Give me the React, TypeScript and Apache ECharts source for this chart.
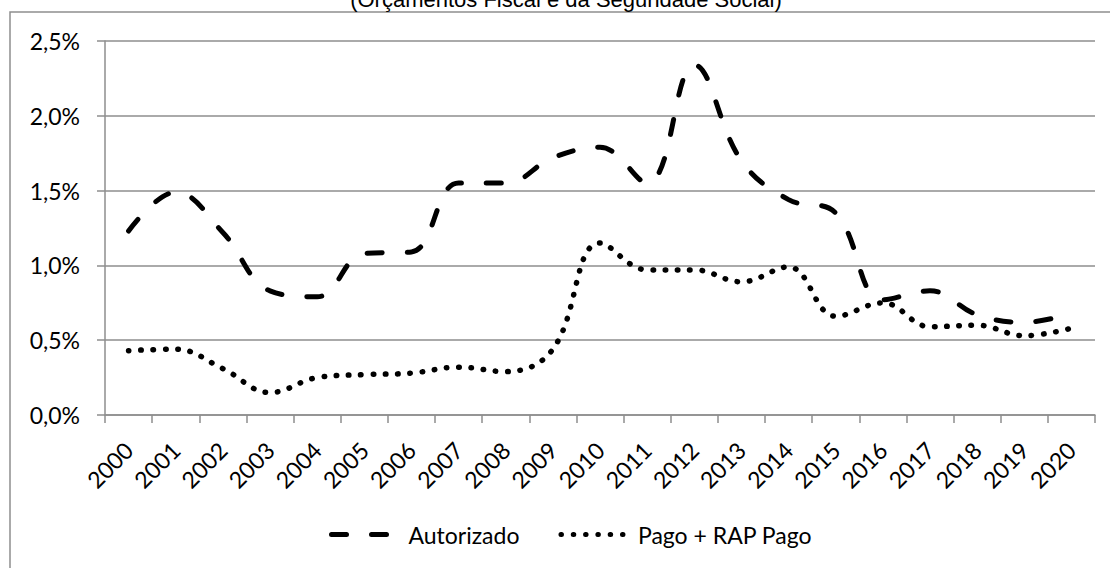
import React, { useEffect, useRef } from "react";
import * as echarts from "echarts";

const years = ["2000","2001","2002","2003","2004","2005","2006","2007","2008","2009","2010","2011","2012","2013","2014","2015","2016","2017","2018","2019","2020"];
const autorizado = [1.23, 1.49, 1.22, 0.83, 0.79, 1.08, 1.09, 1.55, 1.55, 1.72, 1.79, 1.55, 2.34, 1.70, 1.44, 1.35, 0.77, 0.83, 0.67, 0.62, 0.68];
const pagoRap = [0.43, 0.44, 0.31, 0.15, 0.25, 0.27, 0.28, 0.32, 0.29, 0.44, 1.15, 0.97, 0.97, 0.89, 0.99, 0.66, 0.75, 0.59, 0.60, 0.53, 0.58];
const seriesNames = ["Autorizado", "Pago + RAP Pago"];
const titleText = "(Orçamentos Fiscal e da Seguridade Social)";

const FONT = "Lato";
const GRID_COLOR = "#8e8e8e";

export default function App() {
  const ref = useRef<HTMLDivElement>(null);
  useEffect(() => {
    if (!ref.current) return;
    const chart = echarts.init(ref.current, undefined, { renderer: "svg" });
    chart.setOption({
      animation: false,
      backgroundColor: "#ffffff",
      graphic: [
        {
          type: "rect",
          shape: { x: 10, y: 12, width: 1300, height: 700 },
          style: { fill: "none", stroke: GRID_COLOR, lineWidth: 1.5 },
          silent: true,
        },
        {
          type: "text",
          x: 566,
          y: -1,
          style: {
            text: titleText,
            fontFamily: "Liberation Sans",
            fontSize: 22,
            fill: "#000",
            align: "center",
            verticalAlign: "middle",
          },
          silent: true,
        },
      ],
      legend: {
        data: seriesNames,
        left: 324,
        top: 518,
        itemWidth: 65,
        itemHeight: 14,
        itemGap: 39,
        itemStyle: { opacity: 0 },
        lineStyle: { width: 5 },
        textStyle: { fontFamily: FONT, fontSize: 23, color: "#000", padding: [0, 0, 0, 7] },
      },
      grid: { left: 105, right: 15, top: 41, bottom: 153 },
      xAxis: {
        type: "category",
        data: years,
        boundaryGap: true,
        axisLine: { lineStyle: { color: GRID_COLOR, width: 1.5 } },
        axisTick: { show: true, length: 8, interval: 0, lineStyle: { color: GRID_COLOR, width: 1.5 } },
        axisLabel: { interval: 0, rotate: 45, margin: 31, fontFamily: FONT, fontSize: 23, color: "#000" },
      },
      yAxis: {
        type: "value",
        min: 0,
        max: 2.5,
        interval: 0.5,
        axisLine: { show: true, lineStyle: { color: GRID_COLOR, width: 1.5 } },
        axisTick: { show: true, length: 8, lineStyle: { color: GRID_COLOR, width: 1.5 } },
        splitLine: { show: true, lineStyle: { color: GRID_COLOR, width: 1.5 } },
        axisLabel: {
          margin: 25,
          fontFamily: FONT,
          fontSize: 23,
          color: "#000",
          formatter: (v: number) => v.toFixed(1).replace(".", ",") + "%",
        },
      },
      series: [
        {
          name: seriesNames[0],
          type: "line",
          data: autorizado,
          smooth: 0.4,
          symbol: "none",
          lineStyle: { color: "#000", width: 5, type: [15, 25], cap: "round" },
          itemStyle: { color: "#000" },
        },
        {
          name: seriesNames[1],
          type: "line",
          data: pagoRap,
          smooth: 0.4,
          symbol: "none",
          lineStyle: { color: "#000", width: 5.5, type: [0.5, 11.8], cap: "round" },
          itemStyle: { color: "#000" },
        },
      ],
    });
    return () => chart.dispose();
  }, []);
  return (
    <div
      ref={ref}
      style={{ position: "fixed", left: 0, top: 0, width: 1110, height: 568, background: "#fff" }}
    />
  );
}
